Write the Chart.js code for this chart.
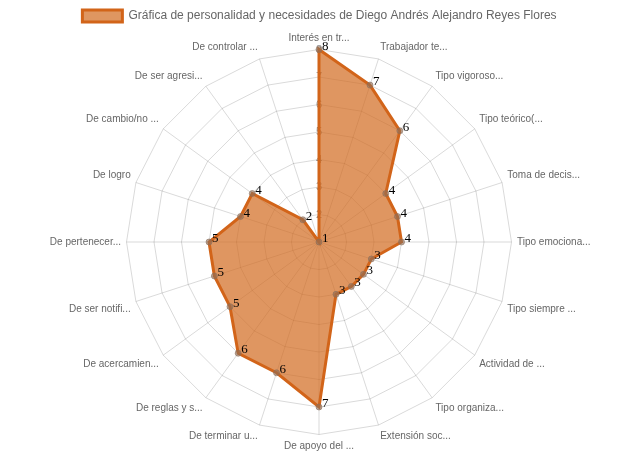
<!DOCTYPE html>
<html>
<head>
<meta charset="utf-8">
<script src="https://cdn.jsdelivr.net/npm/chart.js@4/dist/chart.umd.min.js"></script>
<style>
  body { margin: 0; background: #fff; }
  #wrap { width: 639px; height: 452px; }
</style>
</head>
<body>
<div id="wrap"><canvas id="radar"></canvas></div>
<script>
  const labels = [
    'Interés en tr...', 'Trabajador te...', 'Tipo vigoroso...', 'Tipo teórico(...',
    'Toma de decis...', 'Tipo emociona...', 'Tipo siempre ...', 'Actividad de ...',
    'Tipo organiza...', 'Extensión soc...', 'De apoyo del ...', 'De terminar u...',
    'De reglas y s...', 'De acercamien...', 'De ser notifi...', 'De pertenecer...',
    'De logro', 'De cambio/no ...', 'De ser agresi...', 'De controlar ...'
  ];
  const values = [8, 7, 6, 4, 4, 4, 3, 3, 3, 3, 7, 6, 6, 5, 5, 5, 4, 4, 2, 1];
  const seriesName = 'Gráfica de personalidad y necesidades de Diego Andrés Alejandro Reyes Flores';

  // value labels next to each point (serif, black)
  const valueLabels = {
    id: 'valueLabels',
    afterDatasetsDraw(chart) {
      const ctx = chart.ctx;
      const meta = chart.getDatasetMeta(0);
      ctx.save();
      ctx.font = '13px "Liberation Serif", "DejaVu Serif", serif';
      ctx.fillStyle = '#000';
      ctx.textAlign = 'left';
      ctx.textBaseline = 'alphabetic';
      meta.data.forEach((pt, i) => {
        ctx.fillText(String(values[i]), pt.x + 3, pt.y);
      });
      ctx.restore();
    }
  };

  const ctx = document.getElementById('radar').getContext('2d');
  new Chart(ctx, {
    type: 'radar',
    data: {
      labels: labels,
      datasets: [{
        label: seriesName,
        data: values,
        backgroundColor: 'rgba(210, 105, 30, 0.7)',
        borderColor: 'rgb(210, 100, 25)',
        borderWidth: 3,
        pointRadius: 3,
        pointBackgroundColor: 'rgba(140, 110, 90, 0.6)',
        pointBorderColor: 'rgba(140, 110, 90, 0.6)',
        pointBorderWidth: 1
      }]
    },
    options: {
      responsive: true,
      maintainAspectRatio: false,
      animation: false,
      layout: { padding: { bottom: -6 } },
      plugins: {
        legend: {
          labels: { color: '#666', font: { size: 12 } }
        },
        tooltip: { enabled: false }
      },
      scales: {
        r: {
          min: 1,
          max: 8,
          ticks: {
            stepSize: 1, color: '#888', font: { size: 11, lineHeight: 0 },
            showLabelBackdrop: false, backdropPadding: 0
          },
          grid: { color: 'rgba(0,0,0,0.15)' },
          angleLines: { color: 'rgba(0,0,0,0.15)' },
          pointLabels: { color: '#666', font: { size: 10 }, padding: 0 }
        }
      }
    },
    plugins: [valueLabels]
  });
</script>
</body>
</html>
